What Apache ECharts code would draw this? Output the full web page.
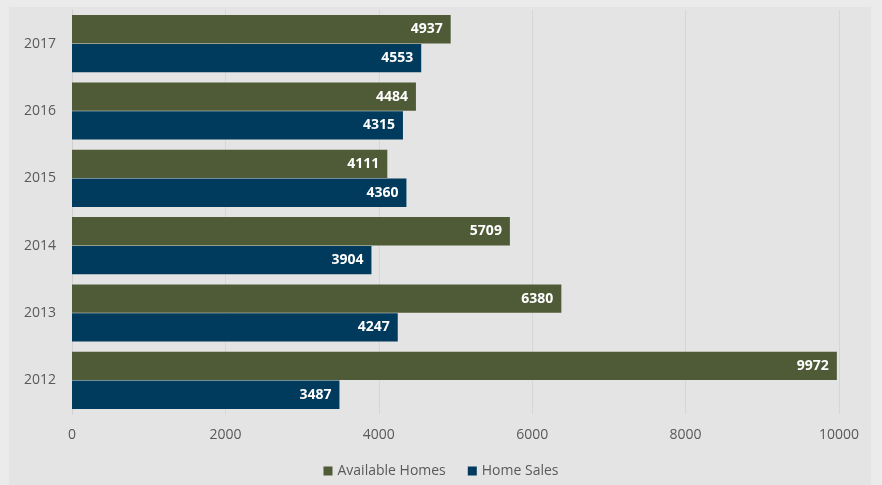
<!DOCTYPE html>
<html><head><meta charset="utf-8">
<script src="https://cdn.jsdelivr.net/npm/echarts@6/dist/echarts.min.js"></script>
<style>html,body{margin:0;padding:0;background:#ebebeb;}#c{width:882px;height:485px;}</style>
</head><body><div id="c"></div>
<script>
const years = ['2012','2013','2014','2015','2016','2017'];
const availableHomes = [9972, 6380, 5709, 4111, 4484, 4937];
const homeSales = [3487, 4247, 3904, 4360, 4315, 4553];
const xTicks = [0, 2000, 4000, 6000, 8000, 10000];

const chart = echarts.init(document.getElementById('c'));
const lbl = {show:true, position:'insideRight', color:'#ffffff', fontWeight:'bold', fontSize:14, fontFamily:'Open Sans', distance:8};
chart.setOption({
  animation:false,
  backgroundColor:'#ebebeb',
  graphic:[{type:'rect', shape:{x:9,y:7,width:862,height:478}, style:{fill:'#e4e4e4'}, z:-10}],
  grid:{left:72, right:43, top:10, bottom:71},
  legend:{data:['Available Homes','Home Sales'], bottom:2, left:'center', itemWidth:9, itemHeight:9, itemGap:22, icon:'rect',
    textStyle:{color:'#595959', fontSize:14, fontFamily:'Open Sans'}},
  xAxis:{type:'value', min:xTicks[0], max:xTicks[xTicks.length-1], interval:2000,
    axisLine:{show:false}, axisTick:{show:false},
    splitLine:{lineStyle:{color:'#d6d6d6'}},
    axisLabel:{color:'#595959', fontSize:14, fontFamily:'Open Sans', margin:14, formatter:v=>String(v)}},
  yAxis:{type:'category', data:years,
    axisLine:{lineStyle:{color:'#d0d0d0'}}, axisTick:{show:false},
    axisLabel:{color:'#595959', fontSize:14, fontFamily:'Open Sans', margin:16}},
  series:[
    {name:'Available Homes', type:'bar', data:availableHomes, itemStyle:{color:'#4f5a37'}, barGap:'2%', barCategoryGap:'15%', label:lbl},
    {name:'Home Sales', type:'bar', data:homeSales, itemStyle:{color:'#003a5c'}, barGap:'2%', barCategoryGap:'15%', label:lbl}
  ]
});
</script></body></html>
